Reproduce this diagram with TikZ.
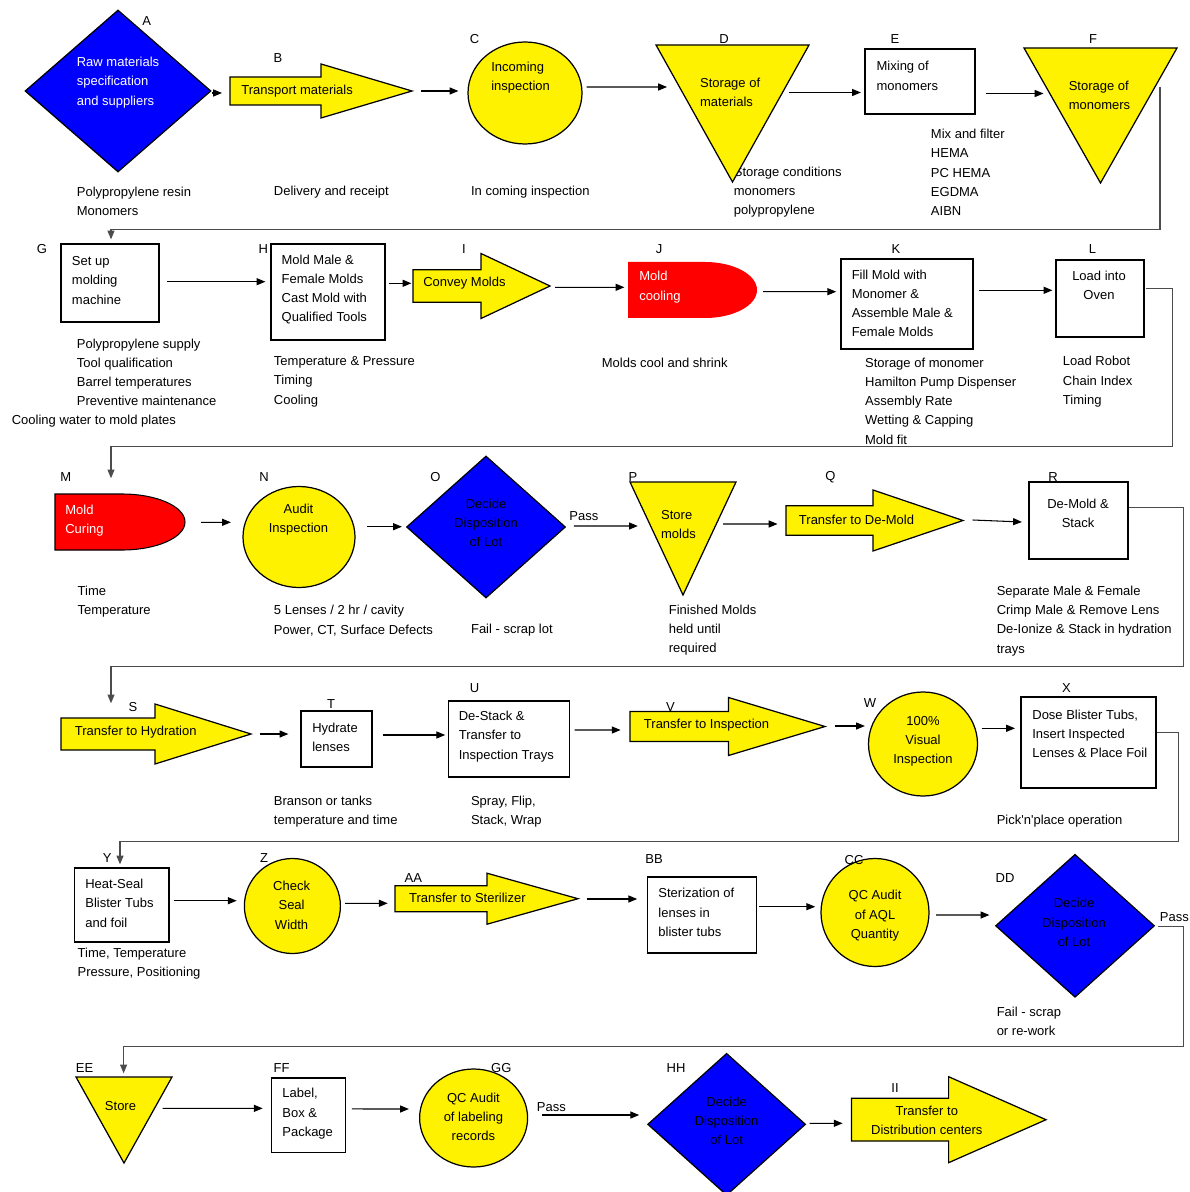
\documentclass[tikz,border=0pt]{standalone}
\usepackage{fontspec}
\setmainfont{Liberation Sans}
\usetikzlibrary{arrows.meta,shapes.geometric,fit}

\begin{document}
\begin{tikzpicture}[x=0.02cm,y=-0.02cm,
  every node/.style={font=\fontsize{7.4}{10.95}\selectfont,inner sep=0pt},
  txt/.style={align=left,anchor=west},
  ctxt/.style={align=center},
  wtxt/.style={txt,text=white},
  box/.style={draw,line width=0.7pt},
  circ/.style={ellipse,draw,line width=0.7pt,fill=yellow},
  decide/.style={diamond,draw,line width=0.7pt,fill=blue},
  hold/.style={inner sep=0pt,outer sep=0pt},
  shp/.style={draw,line width=0.7pt,fill=yellow},
  arr/.style={-{Triangle[length=5pt,width=4pt]},line width=0.6pt},
  back/.style={arr,draw=black!70}]
\def\pxl{0.02cm}
\def\blockarrow#1#2#3#4#5#6#7{%
  \filldraw[shp] (#2,#5-#6) -- (#3,#5-#6) -- (#3,#5-#7) -- (#4,#5) -- (#3,#5+#7) -- (#3,#5+#6) -- (#2,#5+#6) -- cycle;
  \node[hold,fit={(#2,#5-#7) (#4,#5+#7)}] (#1) {};}
\def\storetri#1#2#3#4#5{%
  \filldraw[shp] (#2,#4) -- (#3,#4) -- ({(#2+#3)/2},#5) -- cycle;
  \node[hold,fit={(#2,#4) (#3,#5)}] (#1) {};}
\def\delayshape#1#2#3#4#5#6#7{%
  \path[#7] (#2,#5) -- (#3,#5) .. controls ({#3+0.552*(#4-#3)},#5) and (#4,{#5+0.224*(#6-#5)}) .. (#4,{(#5+#6)/2})
    .. controls (#4,{#6-0.224*(#6-#5)}) and ({#3+0.552*(#4-#3)},#6) .. (#3,#6) -- (#2,#6) -- cycle;
  \node[hold,fit={(#2,#5) (#4,#6)}] (#1) {};}

\useasboundingbox (0,0) rectangle (1189,1192);

\node[txt] (A-n) at (76.5,201.7) {Polypropylene resin\\Monomers};
\node[txt] (B-n) at (273.6,192.3) {Delivery and receipt};
\node[txt] (C-n) at (470.7,192.3) {In coming inspection};
\node[txt] (D-n) at (733.5,192.2) {Storage conditions\\monomers\\polypropylene};
\node[txt] (E-n) at (930.6,172.5) {Mix and filter\\HEMA\\PC HEMA\\EGDMA\\AIBN};

\node[decide,minimum width=186*\pxl,minimum height=162*\pxl] (A) at (118,91) {};
\blockarrow{B}{230}{321}{412}{91}{14}{27}
\node[circ,minimum width=114*\pxl,minimum height=102*\pxl] (C) at (525,93) {};
\storetri{D}{656}{809}{45}{182}
\node[box,fit={(865,49) (975,114)}] (E) {};
\storetri{F}{1024}{1177}{48}{183}

\node[wtxt] (A-t) at (76.5,82.5) {Raw materials\\specification\\and suppliers};
\node[txt] (B-t) at (241,90.7) {Transport materials};
\node[txt] (C-t) at (491,77.5) {Incoming\\inspection};
\node[txt] (D-t) at (699.8,92.5) {Storage of\\materials};
\node[txt] (E-t) at (876.3,75.8) {Mixing of\\monomers};
\node[txt] (F-t) at (1068.4,95) {Storage of\\monomers};

\node (A-l) at (146.6,20.7) {A};
\node (B-l) at (278,58.3) {B};
\node (C-l) at (474.5,39.3) {C};
\node (D-l) at (724,39.3) {D};
\node (E-l) at (895,39.3) {E};
\node (F-l) at (1093,39.3) {F};

\node[txt] (G-n) at (76.5,372.3) {Polypropylene supply\\Tool qualification\\Barrel temperatures\\Preventive maintenance};
\node[txt] (G-m) at (11.5,420.7) {Cooling water to mold plates};
\node[txt] (H-n) at (273.6,381.7) {Temperature \& Pressure\\Timing\\Cooling};
\node[txt] (J-n) at (601.5,362.7) {Molds cool and shrink};
\node[txt] (K-n) at (864.8,401) {Storage of monomer\\Hamilton Pump Dispenser\\Assembly Rate\\Wetting \& Capping\\Mold fit};
\node[txt] (L-n) at (1062.6,381.7) {Load Robot\\Chain Index\\Timing};

\node[box,fit={(61,244) (159,322)}] (G) {};
\node[box,fit={(271,244) (385,340)}] (H) {};
\blockarrow{I}{413}{481}{550}{286}{16.3}{32.5}
\delayshape{J}{628}{705}{757}{262}{318}{fill=red}
\node[box,fit={(841,259) (973,349)}] (K) {};
\node[box,fit={(1056,260) (1144,337)}] (L) {};

\node[txt] (G-t) at (71.6,280.3) {Set up\\molding\\machine};
\node[txt] (H-t) at (281.3,289.5) {Mold Male \&\\Female Molds\\Cast Mold with\\Qualified Tools};
\node[txt] (I-t) at (422.9,283.3) {Convey Molds};
\node[wtxt] (J-t) at (639,287.2) {Mold\\cooling};
\node[txt] (K-t) at (851.4,303.3) {Fill Mold with\\Monomer \&\\Assemble Male \&\\Female Molds};
\node[ctxt] (L-t) at (1099,285.2) {Load into\\Oven};

\node (G-l) at (42,249.3) {G};
\node (H-l) at (263.3,249.3) {H};
\node (I-l) at (463.8,249.3) {I};
\node (J-l) at (659,249.3) {J};
\node (K-l) at (896,249.3) {K};
\node (L-l) at (1092.5,249.3) {L};

\node[txt] (M-n) at (77.3,601.3) {Time\\Temperature};
\node[txt] (N-n) at (273.6,620.5) {5 Lenses / 2 hr / cavity\\Power, CT, Surface Defects};
\node[txt] (O-n) at (470.7,630) {Fail - scrap lot};
\node[txt] (P-n) at (668.5,630.2) {Finished Molds\\held until\\required};
\node[txt] (R-n) at (996.4,620.8) {Separate Male \& Female\\Crimp Male \& Remove Lens\\De-Ionize \& Stack in hydration\\trays};

\delayshape{M}{55}{122}{185}{494}{550}{fill=red,draw,line width=0.6pt}
\node[circ,minimum width=112*\pxl,minimum height=101*\pxl] (N) at (299,537) {};
\node[decide,minimum width=159*\pxl,minimum height=142*\pxl] (O) at (486,527) {};
\storetri{P}{630}{736}{482}{595}
\blockarrow{Q}{786}{873}{963}{520.5}{14.7}{30.5}
\node[box,fit={(1029,482) (1128,559)}] (R) {};

\node[wtxt] (M-t) at (65,520.5) {Mold\\Curing};
\node[ctxt] (N-t) at (298.5,519.5) {Audit\\Inspection};
\node[ctxt] (O-t) at (486,522.8) {Decide\\Disposition\\of Lot};
\node[txt] (P-t) at (660.8,524.5) {Store\\molds};
\node[txt] (Q-t) at (798.6,520.3) {Transfer to De-Mold};
\node[ctxt] (R-t) at (1078,513.3) {De-Mold \&\\Stack};

\node (M-l) at (65.8,476.7) {M};
\node (N-l) at (264,476.7) {N};
\node (O-l) at (435.5,477.3) {O};
\node (P-l) at (632.9,476.7) {P};
\node (Q-l) at (830.3,476.7) {Q};
\node (R-l) at (1053,476.7) {R};
\node[txt] (O-p) at (569,515.7) {Pass};

\node[txt] (T-n) at (273.6,811.7) {Branson or tanks\\temperature and time};
\node[txt] (U-n) at (470.7,811.7) {Spray, Flip,\\Stack, Wrap};
\node[txt] (X-n) at (996.4,821) {Pick\textquotesingle n\textquotesingle place operation};

\blockarrow{S}{61}{155}{251}{734}{16}{30}
\node[box,fit={(301,711) (372,767)}] (T) {};
\node[box,fit={(448.5,701) (569.5,777)}] (U) {};
\blockarrow{V}{630}{728.5}{825}{726.5}{15}{29}
\node[circ,minimum width=109*\pxl,minimum height=104*\pxl] (W) at (923,744) {};
\node[box,fit={(1021,697) (1156,788)}] (X) {};

\node[txt] (S-t) at (74.6,732.3) {Transfer to Hydration};
\node[txt] (T-t) at (311.9,737.2) {Hydrate\\lenses};
\node[txt] (U-t) at (458.5,736.5) {De-Stack \&\\Transfer to\\Inspection Trays};
\node[txt] (V-t) at (643.6,725) {Transfer to Inspection};
\node[ctxt] (W-t) at (923,741.2) {100\%\\Visual\\Inspection};
\node[txt] (X-t) at (1032,733.7) {Dose Blister Tubs,\\Insert Inspected\\Lenses \& Place Foil};

\node (S-l) at (133,706.7) {S};
\node (T-l) at (331,704.3) {T};
\node (U-l) at (474.5,688.3) {U};
\node (V-l) at (670.4,706.7) {V};
\node (W-l) at (870,703) {W};
\node (X-l) at (1066.5,688.3) {X};

\node[txt] (Y-n) at (77.3,963.3) {Time, Temperature\\Pressure, Positioning};
\node[txt] (DD-n) at (996.4,1021.7) {Fail - scrap\\or re-work};

\node[box,fit={(74.6,868) (169,942)}] (Y) {};
\node[circ,minimum width=96*\pxl,minimum height=95*\pxl] (Z) at (292.4,906) {};
\blockarrow{AA}{395}{487}{578}{898.7}{13}{25.5}
\node[box,fit={(647.4,877) (756.5,953)}] (BB) {};
\node[circ,minimum width=108*\pxl,minimum height=108*\pxl] (CC) at (875,912.5) {};
\node[decide,minimum width=159*\pxl,minimum height=143*\pxl] (DD) at (1075,925.8) {};

\node[txt] (Y-t) at (85,903.3) {Heat-Seal\\Blister Tubs\\and foil};
\node[ctxt] (Z-t) at (291.6,905.2) {Check\\Seal\\Width};
\node[txt] (AA-t) at (408.7,898.3) {Transfer to Sterilizer};
\node[txt] (BB-t) at (658.1,912.5) {Sterization of\\lenses in\\blister tubs};
\node[ctxt] (CC-t) at (875,915.8) {QC Audit\\of AQL\\Quantity};
\node[ctxt] (DD-t) at (1074,922.5) {Decide\\Disposition\\of Lot};

\node (Y-l) at (107.2,858.3) {Y};
\node (Z-l) at (264,858.3) {Z};
\node (AA-l) at (413.3,878.3) {AA};
\node (BB-l) at (654,859) {BB};
\node (CC-l) at (854,860) {CC};
\node (DD-l) at (1005,878) {DD};
\node[txt] (DD-p) at (1159.5,916.7) {Pass};

\storetri{EE}{76}{172}{1077}{1163}
\node[box,fit={(271.7,1078) (345.6,1152.7)}] (FF) {};
\node[circ,minimum width=108*\pxl,minimum height=98*\pxl] (GG) at (473.6,1118) {};
\node[decide,minimum width=158*\pxl,minimum height=142*\pxl] (HH) at (726.6,1124.3) {};
\blockarrow{II}{851.4}{948.6}{1046}{1119.7}{21.4}{43}

\node[ctxt] (EE-t) at (120.5,1106) {Store};
\node[txt] (FF-t) at (282,1113.8) {Label,\\Box \&\\Package};
\node[ctxt] (GG-t) at (473.4,1117) {QC Audit\\of labeling\\records};
\node[ctxt] (HH-t) at (726.6,1121) {Decide\\Disposition\\of Lot};
\node[ctxt] (II-t) at (926.8,1120) {Transfer to\\Distribution centers};

\node (EE-l) at (84.5,1068) {EE};
\node (FF-l) at (281.5,1068) {FF};
\node (GG-l) at (501.3,1068) {GG};
\node (HH-l) at (676,1068) {HH};
\node (II-l) at (895,1088) {II};
\node[txt] (GG-p) at (536.5,1106.7) {Pass};

\draw[arr] ([shift={(0,2)}]A.east) -- ([shift={(-8,2)}]B.west);
\draw[arr] ([shift={(9,0)}]B.east) -- ([shift={(-9,-2)}]C.west);
\draw[arr] ([shift={(4,-6)}]C.east) -- ([shift={(11,-26.5)}]D.west);
\draw[arr] ([shift={(-20,-21)}]D.east) -- ([shift={(-3.5,11)}]E.west);
\draw[arr] ([shift={(10,12)}]E.east) -- ([shift={(19.5,-22)}]F.west);
\draw[back] ([shift={(-17,-28)}]F.east) -- ++(0,142) -| ([shift={(1,-4)}]G.north);

\draw[arr] ([shift={(7.5,-1.3)}]G.east) -- ([shift={(-5,-10.3)}]H.west);
\draw[arr] ([shift={(3.4,-8.7)}]H.east) -- ([shift={(-1.6,-2.7)}]I.west);
\draw[arr] ([shift={(5,1.3)}]I.east) -- ([shift={(-3.6,-2.7)}]J.west);
\draw[arr] ([shift={(6,1.7)}]J.east) -- ([shift={(-4.2,-12.3)}]K.west);
\draw[arr] ([shift={(5.4,-13.7)}]K.east) -- ([shift={(-3,-8.2)}]L.west);
\draw[back] ([shift={(1,-10.2)}]L.east) -- ++(26.7,0) -- ++(0,158.4) -| ([shift={(-9,-15.7)}]M.north);

\draw[arr] ([shift={(16,0.3)}]M.east) -- ([shift={(-11.5,-14.7)}]N.west);
\draw[arr] ([shift={(11.2,-10.3)}]N.east) -- ([shift={(-4,-0.3)}]O.west);
\draw[arr] ([shift={(7.8,-1)}]O.east) -- ([shift={(7.8,-12.5)}]P.west);
\draw[arr] ([shift={(-12.8,-14.5)}]P.east) -- ([shift={(-8.5,3.5)}]Q.west);
\draw[arr] ([shift={(9.7,-0.5)}]Q.east) -- ([shift={(-6.5,1.5)}]R.west);
\draw[back] ([shift={(0.8,-13.2)}]R.east) -- ++(54.4,0) -- ++(0,159.4) -| ([shift={(-45,-0.7)}]S.north);

\draw[arr] ([shift={(8.5,0)}]S.east) -- ([shift={(-12,-5)}]T.west);
\draw[arr] ([shift={(10.7,-4)}]T.east) -- ([shift={(-2.7,-4)}]U.west);
\draw[arr] ([shift={(4.5,-9)}]U.east) -- ([shift={(-9.4,3.5)}]V.west);
\draw[arr] ([shift={(9.9,-0.5)}]V.east) -- ([shift={(-3,-18)}]W.west);
\draw[arr] ([shift={(3.5,-15.7)}]W.east) -- ([shift={(-5.4,-14.2)}]X.west);
\draw[back] ([shift={(0.4,-9.8)}]X.east) -- ++(21,0) -- ++(0,108.6) -| ([shift={(-1.8,-3)}]Y.north);

\draw[arr] ([shift={(4,-4.3)}]Y.east) -- ([shift={(-7.1,-5.3)}]Z.west);
\draw[arr] ([shift={(4,-2.7)}]Z.east) -- ([shift={(-7.3,4.6)}]AA.west);
\draw[arr] ([shift={(8.7,0.3)}]AA.east) -- ([shift={(-9.6,-16)}]BB.west);
\draw[arr] ([shift={(1.9,-8.3)}]BB.east) -- ([shift={(-5.2,-5.8)}]CC.west);
\draw[arr] ([shift={(6.6,2.5)}]CC.east) -- ([shift={(-5.5,-10.8)}]DD.west);
\draw[back] ([shift={(3,0.9)}]DD.east) -- ++(25.7,0) -- ++(0,120) -| ([shift={(-0.4,-3.7)}]EE.north);

\draw[arr] ([shift={(-9.4,-11.7)}]EE.east) -- ([shift={(-8.4,-7)}]FF.west);
\draw[arr] ([shift={(5.7,-6.4)}]FF.east) -- ([shift={(-10.1,-9)}]GG.west);
\draw[arr] ([shift={(13.9,-3)}]GG.east) -- ([shift={(-7.8,-9.3)}]HH.west);
\draw[arr] ([shift={(3.3,-1)}]HH.east) -- ([shift={(-8.8,3.6)}]II.west);
\end{tikzpicture}
\end{document}
